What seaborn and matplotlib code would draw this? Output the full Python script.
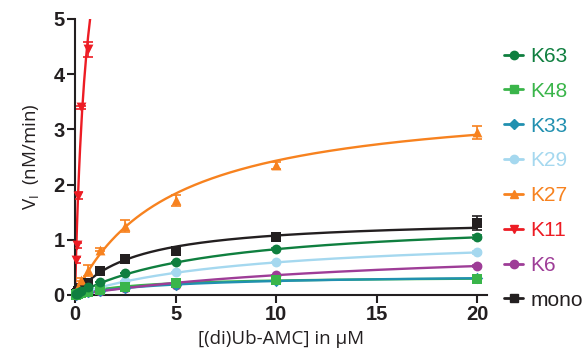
import numpy as np
import pandas as pd
import matplotlib
matplotlib.use("Agg")
import matplotlib.pyplot as plt
from matplotlib.lines import Line2D
import seaborn as sns

sns.set_theme(style="ticks")
plt.rcParams['font.family'] = ['Liberation Sans', 'DejaVu Sans']

# ---- data ----
series = ["K63", "K48", "K33", "K29", "K27", "K11", "K6", "mono"]
colors = ["#0f7f3f", "#3ab54a", "#2190b0", "#a5d8ef", "#f7821f", "#ed1c24", "#9e3d97", "#231f20"]
markers = ["o", "s", "D", "o", "^", "v", "o", "s"]

conc = [0.039, 0.078, 0.156, 0.3125, 0.625, 1.25, 2.5, 5, 10, 20]
conc_k11 = [0.039, 0.078, 0.156, 0.3125, 0.625]

v_k63 = [0.01, 0.02, 0.04, 0.08, 0.14, 0.24, 0.39, 0.60, 0.83, 1.05]
v_k48 = [0.005, 0.01, 0.02, 0.03, 0.05, 0.09, 0.145, 0.22, 0.27, 0.29]
v_k33 = [0.005, 0.01, 0.02, 0.03, 0.05, 0.08, 0.12, 0.18, 0.25, 0.31]
v_k29 = [0.01, 0.015, 0.03, 0.05, 0.08, 0.15, 0.25, 0.42, 0.59, 0.77]
v_k27 = [0.03, 0.06, 0.14, 0.28, 0.45, 0.82, 1.25, 1.72, 2.35, 2.95]
v_k11 = [0.63, 0.90, 1.80, 3.40, 4.45]
v_k6 = [0.005, 0.01, 0.015, 0.03, 0.05, 0.08, 0.12, 0.18, 0.36, 0.52]
v_mono = [0.02, 0.04, 0.07, 0.12, 0.22, 0.44, 0.66, 0.80, 1.05, 1.30]

e_k63 = [0, 0, 0, 0, 0, 0, 0, 0, 0.02, 0.03]
e_k48 = [0, 0, 0, 0, 0, 0, 0, 0, 0.01, 0.02]
e_k33 = [0, 0, 0, 0, 0, 0, 0, 0, 0.02, 0.04]
e_k29 = [0, 0, 0, 0, 0, 0, 0, 0, 0.01, 0.02]
e_k27 = [0, 0, 0, 0.02, 0.10, 0.03, 0.10, 0.10, 0.06, 0.12]
e_k11 = [0.05, 0.04, 0.06, 0.03, 0.13]
e_k6 = [0, 0, 0, 0, 0, 0, 0, 0, 0.01, 0.02]
e_mono = [0, 0, 0, 0, 0, 0, 0, 0.02, 0.03, 0.13]

# Michaelis-Menten fit parameters (Vmax, Km)
vmax = [1.41, 0.34, 0.38, 1.11, 3.6, 9.0, 0.97, 1.40]
km = [7.0, 3.0, 5.0, 8.8, 4.8, 0.6, 17.0, 3.0]

values = [v_k63, v_k48, v_k33, v_k29, v_k27, v_k11, v_k6, v_mono]
errors = [e_k63, e_k48, e_k33, e_k29, e_k27, e_k11, e_k6, e_mono]
xs = [conc, conc, conc, conc, conc, conc_k11, conc, conc]

fig = plt.figure(figsize=(5.88, 3.58), dpi=100)
ax = fig.add_axes([0.1276, 0.176, 0.7007, 0.771])

xfit = np.linspace(0, 20, 400)
order = list(range(len(series)))[::-1]
for i in order:
    c = colors[i]
    fit = pd.DataFrame({"x": xfit, "y": vmax[i] * xfit / (km[i] + xfit)})
    sns.lineplot(data=fit, x="x", y="y", ax=ax, color=c, lw=1.7, zorder=2 + i * 0.01)
    ax.errorbar(xs[i], values[i], yerr=errors[i], fmt="none", ecolor=c,
                elinewidth=1.2, capsize=3.5, capthick=1.2, zorder=3)
    df = pd.DataFrame({"x": xs[i], "y": values[i]})
    sns.scatterplot(data=df, x="x", y="y", ax=ax, color=c, marker=markers[i],
                    s=50 if markers[i] != "D" else 34, edgecolor=c, linewidth=0,
                    zorder=4 + (len(series) - i) * 0.01, clip_on=False)

ax.set_xlim(0, 20.5)
ax.set_ylim(0, 5)
ax.set_xticks([0, 5, 10, 15, 20])
ax.set_yticks([0, 1, 2, 3, 4, 5])
for s in ["top", "right"]:
    ax.spines[s].set_visible(False)
for s in ["left", "bottom"]:
    ax.spines[s].set_linewidth(1.5)
    ax.spines[s].set_color("#231f20")
ax.tick_params(axis="both", direction="out", length=5.5, width=1.5, colors="#231f20",
               labelsize=14.5, pad=2)
for lab in ax.get_xticklabels() + ax.get_yticklabels():
    lab.set_fontweight("bold")

ax.set_xlabel("[(di)Ub-AMC] in µM", fontsize=13.5, family=["Open Sans", "DejaVu Sans"],
              color="#231f20", labelpad=4)
ax.set_ylabel(r"V$_{\mathregular{I}}$  (nM/min)", fontsize=13.5,
              family=["Open Sans", "DejaVu Sans"], color="#231f20", labelpad=8)

handles = [Line2D([0], [0], color=colors[i], marker=markers[i], lw=2,
                  markersize=6 if markers[i] != "D" else 5) for i in range(len(series))]
leg = ax.legend(handles, series, loc="upper left", bbox_to_anchor=(1.042, 0.899),
                frameon=False, fontsize=15, handlelength=0.9, handletextpad=0.35,
                labelspacing=0.76, borderaxespad=0, borderpad=0)
for t, c in zip(leg.get_texts(), colors):
    t.set_color(c)

fig.savefig("out.png", dpi=100)
